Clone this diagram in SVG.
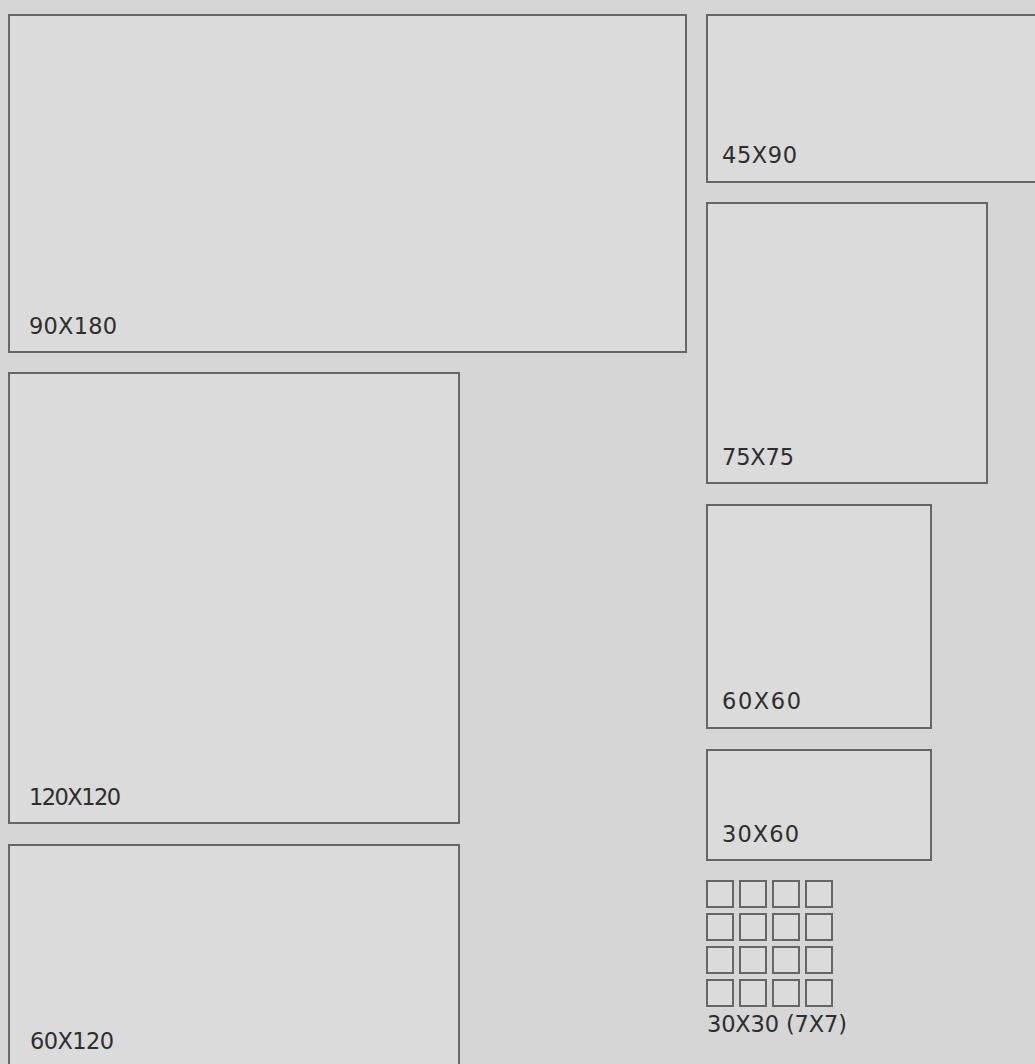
<svg xmlns="http://www.w3.org/2000/svg" width="1035" height="1064" viewBox="0 0 1035 1064">
<style>
.tile{fill:#dbdbdb;stroke:#666666;stroke-width:2}
.sq{fill:#dbdbdb;stroke:#666666;stroke-width:2}
.lbl{font-family:"DejaVu Sans","Liberation Sans",sans-serif;font-size:22.5px;fill:#2e2e2e}
</style>
<rect x="0" y="0" width="1035" height="1064" fill="#d6d6d6"/>
<g id="t90x180"><rect class="tile" x="9" y="15" width="677" height="337"/><text class="lbl" x="29" y="334" textLength="88" lengthAdjust="spacing">90X180</text></g>
<g id="t120x120"><rect class="tile" x="9" y="373" width="450" height="450"/><text class="lbl" x="29" y="805" textLength="92" lengthAdjust="spacing">120X120</text></g>
<g id="t60x120"><rect class="tile" x="9" y="845" width="450" height="240"/><text class="lbl" x="30" y="1049" textLength="84" lengthAdjust="spacing">60X120</text></g>
<g id="t45x90"><rect class="tile" x="707" y="15" width="340" height="167"/><text class="lbl" x="722" y="163" textLength="75" lengthAdjust="spacing">45X90</text></g>
<g id="t75x75"><rect class="tile" x="707" y="203" width="280" height="280"/><text class="lbl" x="722" y="465" textLength="72" lengthAdjust="spacing">75X75</text></g>
<g id="t60x60"><rect class="tile" x="707" y="505" width="224" height="223"/><text class="lbl" x="722" y="709" textLength="79" lengthAdjust="spacing">60X60</text></g>
<g id="t30x60"><rect class="tile" x="707" y="750" width="224" height="110"/><text class="lbl" x="722" y="842" textLength="77" lengthAdjust="spacing">30X60</text></g>
<g id="t30x30">
<rect class="sq" x="707" y="881" width="26" height="26"/><rect class="sq" x="740" y="881" width="26" height="26"/><rect class="sq" x="773" y="881" width="26" height="26"/><rect class="sq" x="806" y="881" width="26" height="26"/>
<rect class="sq" x="707" y="914" width="26" height="26"/><rect class="sq" x="740" y="914" width="26" height="26"/><rect class="sq" x="773" y="914" width="26" height="26"/><rect class="sq" x="806" y="914" width="26" height="26"/>
<rect class="sq" x="707" y="947" width="26" height="26"/><rect class="sq" x="740" y="947" width="26" height="26"/><rect class="sq" x="773" y="947" width="26" height="26"/><rect class="sq" x="806" y="947" width="26" height="26"/>
<rect class="sq" x="707" y="980" width="26" height="26"/><rect class="sq" x="740" y="980" width="26" height="26"/><rect class="sq" x="773" y="980" width="26" height="26"/><rect class="sq" x="806" y="980" width="26" height="26"/>
<text class="lbl" x="707" y="1032" textLength="140" lengthAdjust="spacing">30X30 (7X7)</text>
</g>
<g id="connectors"/>
</svg>
